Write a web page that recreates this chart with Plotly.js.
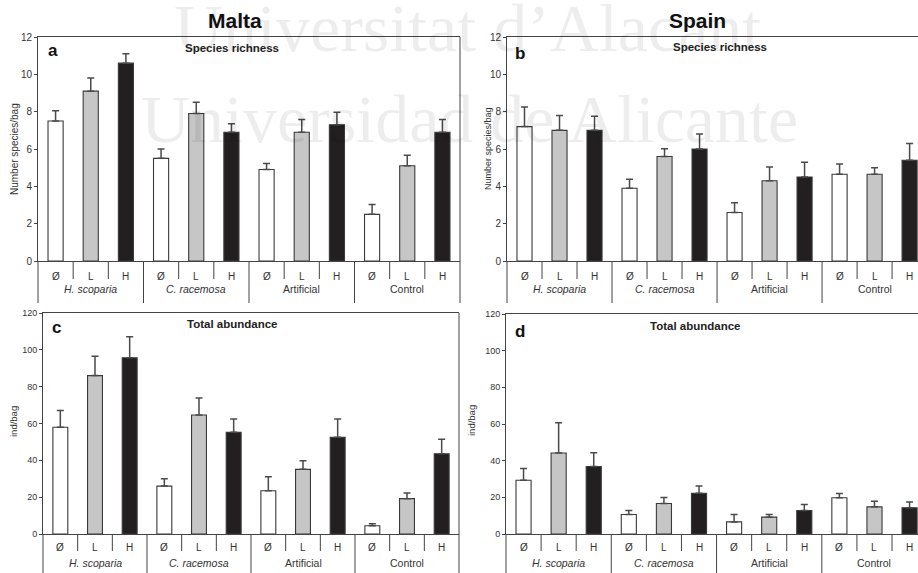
<!DOCTYPE html>
<html>
<head>
<meta charset="utf-8">
<script src="https://cdn.plot.ly/plotly-3.0.1.min.js"></script>
<style>html,body{margin:0;padding:0;background:#fff}#chart{width:918px;height:573px}</style>
</head>
<body>
<div id="chart"></div>
<script>
// ---- data ----
const groups = ['<i>H. scoparia</i>', '<i>C. racemosa</i>', 'Artificial', 'Control'];
const levels = ['Ø', 'L', 'H'];
const levelColors = ['#ffffff', '#c6c6c6', '#231f20'];

const maltaRich   = [7.5, 9.1, 10.6,  5.5, 7.9, 6.9,  4.9, 6.9, 7.3,  2.5, 5.1, 6.9];
const maltaRichSE = [0.55, 0.7, 0.5,  0.5, 0.6, 0.45, 0.32, 0.68, 0.67, 0.53, 0.57, 0.68];
const spainRich   = [7.2, 7.0, 7.0,  3.9, 5.6, 6.0,  2.6, 4.3, 4.5,  4.65, 4.65, 5.4];
const spainRichSE = [1.05, 0.8, 0.75, 0.48, 0.42, 0.8, 0.52, 0.73, 0.79, 0.55, 0.34, 0.9];
const maltaAbund   = [58, 86, 95.7,  26, 64.6, 55.2,  23.5, 35.1, 52.5,  4.5, 19.2, 43.6];
const maltaAbundSE = [9, 10.5, 11.4,  4, 9.2, 7.2,  7.6, 4.7, 9.9,  1.1, 3.1, 7.8];
const spainAbund   = [29.3, 44.2, 36.8,  10.6, 16.6, 22.2,  6.6, 9.2, 12.8,  19.8, 14.8, 14.3];
const spainAbundSE = [6.4, 16.5, 7.5,  2.2, 3.3, 4.0,  4.1, 1.4, 3.3,  2.3, 3.1, 3.1];

const countryTitles = ['Malta', 'Spain'];
const panelLetters = ['a', 'b', 'c', 'd'];
const panelSubtitles = ['Species richness', 'Species richness', 'Total abundance', 'Total abundance'];
const yTitles = ['Number species/bag', 'Number species/bag', 'ind/bag', 'ind/bag'];

// ---- layout helpers ----
const W = 918, H = 573;
const px = x => x / W;
const py = y => 1 - y / H;
const FONT = 'Liberation Sans, Arial, sans-serif';

const nCat = groups.length * levels.length;
const catX = [], catLevel = [], catGroup = [];
groups.forEach((g, gi) => levels.forEach((l, li) => { catX.push(gi * levels.length + li); catLevel.push(li); catGroup.push(gi); }));
const barColors = catLevel.map(i => levelColors[i]);

const panels = [
  {ax: '', vals: maltaRich, err: maltaRichSE, xd: [38, 460], yd: [37, 261], xr: [-0.5, 11.5], yr: [0, 12], dtick: 2, tf: 10,
   letter: [46, 50], sub: [232, 48], ytitle: [15, 149], ytf: 10, rows: {short: 279, grp: 303, lab: 276, glab: 289}, rightBorder: true},
  {ax: '2', vals: spainRich, err: spainRichSE, xd: [507, 918], yd: [37, 261], xr: [-0.5, 11.24], yr: [0, 12], dtick: 2, tf: 10,
   letter: [513, 53], sub: [720, 47], ytitle: [488, 149], ytf: 9, rows: {short: 279, grp: 303, lab: 276, glab: 289}, rightBorder: false},
  {ax: '3', vals: maltaAbund, err: maltaAbundSE, xd: [43, 459], yd: [313, 534], xr: [-0.5, 11.5], yr: [0, 120], dtick: 20, tf: 9,
   letter: [50, 327], sub: [232, 324], ytitle: [13, 422], ytf: 9.5, rows: {short: 551, grp: 573, lab: 547, glab: 563}, rightBorder: true},
  {ax: '4', vals: spainAbund, err: spainAbundSE, xd: [506, 918], yd: [314, 534], xr: [-0.5, 11.24], yr: [0, 120], dtick: 20, tf: 9,
   letter: [513, 331], sub: [695, 326], ytitle: [471, 420], ytf: 9.5, rows: {short: 551, grp: 573, lab: 547, glab: 563}, rightBorder: false}
];

const data = [];
const layout = {
  width: W, height: H, margin: {l: 0, r: 0, t: 0, b: 0},
  paper_bgcolor: '#ffffff', plot_bgcolor: 'rgba(0,0,0,0)',
  showlegend: false, font: {family: FONT, color: '#222'},
  annotations: [], shapes: []
};

// watermark (light text)
layout.annotations.push(
  {xref: 'paper', yref: 'paper', x: px(468), y: py(28), text: 'Universitat d’Alacant', showarrow: false,
   font: {family: 'Liberation Serif, Times New Roman, serif', size: 68, color: 'rgba(0,0,0,0.07)'}, xanchor: 'center', yanchor: 'middle'},
  {xref: 'paper', yref: 'paper', x: px(469), y: py(119), text: 'Universidad de Alicante', showarrow: false,
   font: {family: 'Liberation Serif, Times New Roman, serif', size: 68, color: 'rgba(0,0,0,0.07)'}, xanchor: 'center', yanchor: 'middle'}
);

// country titles
layout.annotations.push(
  {xref: 'paper', yref: 'paper', x: px(235), y: py(20), text: '<b>' + countryTitles[0] + '</b>', showarrow: false,
   font: {size: 21, color: '#111'}, xanchor: 'center', yanchor: 'middle'},
  {xref: 'paper', yref: 'paper', x: px(697), y: py(20), text: '<b>' + countryTitles[1] + '</b>', showarrow: false,
   font: {size: 21, color: '#111'}, xanchor: 'center', yanchor: 'middle'}
);

panels.forEach((p, pi) => {
  const xa = 'x' + p.ax, ya = 'y' + p.ax;
  data.push({
    type: 'bar', x: catX, y: p.vals, xaxis: xa, yaxis: ya, width: 0.43,
    marker: {color: barColors, line: {color: '#3a3a3a', width: 1.1}},
    error_y: {type: 'data', symmetric: false, array: p.err, arrayminus: p.err.map(() => 0),
              color: '#4a4a4a', thickness: 1.5, width: 3.5},
    hoverinfo: 'skip'
  });
  layout['xaxis' + p.ax] = {
    domain: [px(p.xd[0]), px(p.xd[1])], anchor: ya, range: p.xr, fixedrange: true,
    showline: true, mirror: true, linecolor: '#444', linewidth: 1,
    showgrid: false, zeroline: false, showticklabels: false, ticks: ''
  };
  layout['yaxis' + p.ax] = {
    domain: [py(p.yd[1]), py(p.yd[0])], anchor: xa, range: p.yr, dtick: p.dtick, fixedrange: true,
    showline: true, linecolor: '#444', linewidth: 1, ticks: 'outside', ticklen: 3, tickcolor: '#444',
    showgrid: false, zeroline: false, tickfont: {size: p.tf, color: '#333', family: FONT}, automargin: false
  };

  const toPx = v => p.xd[0] + (v - p.xr[0]) / (p.xr[1] - p.xr[0]) * (p.xd[1] - p.xd[0]);
  const axisY = p.yd[1];
  // category dividers
  for (let k = 0; k <= nCat; k++) {
    const v = k - 0.5;
    if (v > p.xr[1]) continue;
    const isGroup = (k % levels.length === 0);
    if (k === nCat && !p.rightBorder) continue;
    const xpx = toPx(v);
    const top = (k === nCat) ? p.yd[0] : axisY;
    layout.shapes.push({type: 'line', xref: 'paper', yref: 'paper',
      x0: px(xpx), x1: px(xpx), y0: py(top), y1: py(isGroup ? p.rows.grp : p.rows.short),
      line: {color: '#444', width: 1}});
  }
  // level labels
  catX.forEach((cx, i) => {
    if (cx > p.xr[1]) return;
    layout.annotations.push({xref: xa, yref: 'paper', x: cx, y: py(p.rows.lab), text: levels[catLevel[i]],
      showarrow: false, font: {size: 10, color: '#333'}, xanchor: 'center', yanchor: 'middle'});
  });
  // group labels
  groups.forEach((g, gi) => {
    layout.annotations.push({xref: xa, yref: 'paper', x: gi * levels.length + (levels.length - 1) / 2, y: py(p.rows.glab),
      text: g, showarrow: false, font: {size: 10.5, color: '#333'}, xanchor: 'center', yanchor: 'middle'});
  });
  // panel letter & subtitle
  layout.annotations.push(
    {xref: 'paper', yref: 'paper', x: px(p.letter[0]), y: py(p.letter[1]), text: '<b>' + panelLetters[pi] + '</b>',
     showarrow: false, font: {size: 17, color: '#111'}, xanchor: 'left', yanchor: 'middle'},
    {xref: 'paper', yref: 'paper', x: px(p.sub[0]), y: py(p.sub[1]), text: '<b>' + panelSubtitles[pi] + '</b>',
     showarrow: false, font: {size: 11.5, color: '#222'}, xanchor: 'center', yanchor: 'middle'},
    {xref: 'paper', yref: 'paper', x: px(p.ytitle[0]), y: py(p.ytitle[1]), text: yTitles[pi], textangle: -90,
     showarrow: false, font: {size: p.ytf, color: '#333'}, xanchor: 'center', yanchor: 'middle'}
  );
});

Plotly.newPlot('chart', data, layout, {displayModeBar: false, staticPlot: true});
</script>
</body>
</html>
